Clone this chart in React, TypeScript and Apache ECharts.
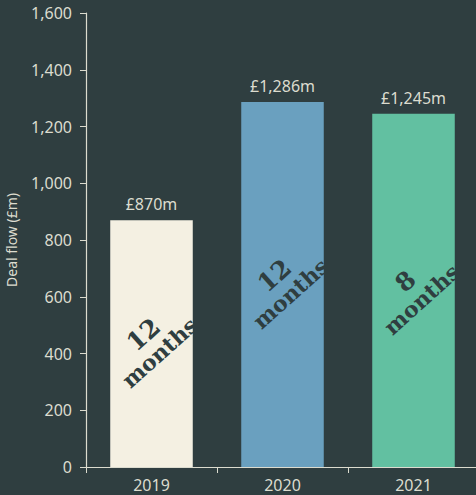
import React, { useEffect, useRef } from "react";
import * as echarts from "echarts";

const categories = ["2019", "2020", "2021"];
const dealFlow = [870, 1286, 1245];
const valueLabels = ["£870m", "£1,286m", "£1,245m"];
const periodNumbers = ["12", "12", "8"];
const periodUnit = "months";
const barColors = ["#f4f0e2", "#6aa0bf", "#62c0a1"];

const BG = "#2f3e40";
const FG = "#dcdccf";

export default function App() {
  const ref = useRef<HTMLDivElement>(null);
  useEffect(() => {
    if (!ref.current) return;
    const chart = echarts.init(ref.current, null, { renderer: "svg" });
    chart.setOption({
      animation: false,
      backgroundColor: BG,
      textStyle: { fontFamily: "Noto Sans" },
      grid: {
        left: 86,
        right: -3,
        top: 13,
        bottom: 28,
        containLabel: false,
        outerBoundsMode: "none",
      },
      xAxis: {
        type: "category",
        data: categories,
        axisLine: { lineStyle: { color: FG, width: 1.2 } },
        axisTick: { show: true, length: 6, lineStyle: { color: FG } },
        axisLabel: { color: FG, fontSize: 16, margin: 10, fontFamily: "Noto Sans" },
      },
      yAxis: {
        type: "value",
        min: 0,
        max: 1600,
        interval: 200,
        name: "Deal flow (£m)",
        nameLocation: "middle",
        nameGap: 68,
        nameTextStyle: { color: FG, fontSize: 14, fontFamily: "Noto Sans" },
        splitLine: { show: false },
        axisLine: { show: true, lineStyle: { color: FG, width: 1.2 } },
        axisTick: { show: true, length: 6, lineStyle: { color: FG } },
        axisLabel: {
          color: FG,
          fontSize: 16,
          margin: 14,
          fontFamily: "Noto Sans",
          formatter: (v: number) => v.toLocaleString("en-GB"),
        },
      },
      series: [
        {
          type: "bar",
          barWidth: "63%",
          data: dealFlow.map((v, i) => ({
            value: v,
            itemStyle: { color: barColors[i] },
          })),
          label: {
            show: true,
            position: "top",
            distance: 8,
            color: FG,
            fontSize: 16,
            fontFamily: "Noto Sans",
            formatter: (p: any) => valueLabels[p.dataIndex],
          },
        },
        {
          type: "scatter",
          silent: true,
          clip: false,
          symbolSize: 0,
          itemStyle: { color: "transparent", opacity: 1 },
          data: dealFlow.map((v, i) => [i, v / 2]),
          label: {
            show: true,
            position: "inside",
            rotate: 42,
            overflow: "none",
            color: BG,
            textBorderWidth: 0,
            formatter: (p: any) =>
              "{n|" + periodNumbers[p.dataIndex] + "}\n{u|" + periodUnit + "}",
            rich: {
              n: {
                color: BG,
                fontSize: 25,
                fontWeight: "bold",
                fontFamily: "DejaVu Serif",
                lineHeight: 24,
                align: "center",
                textBorderWidth: 0,
              },
              u: {
                color: BG,
                fontSize: 22,
                fontWeight: "bold",
                fontFamily: "DejaVu Serif",
                lineHeight: 24,
                align: "center",
                textBorderWidth: 0,
              },
            },
          },
        },
      ],
    });
    return () => chart.dispose();
  }, []);
  return (
    <div
      ref={ref}
      style={{ position: "fixed", left: 0, top: 0, width: 476, height: 495 }}
    />
  );
}
